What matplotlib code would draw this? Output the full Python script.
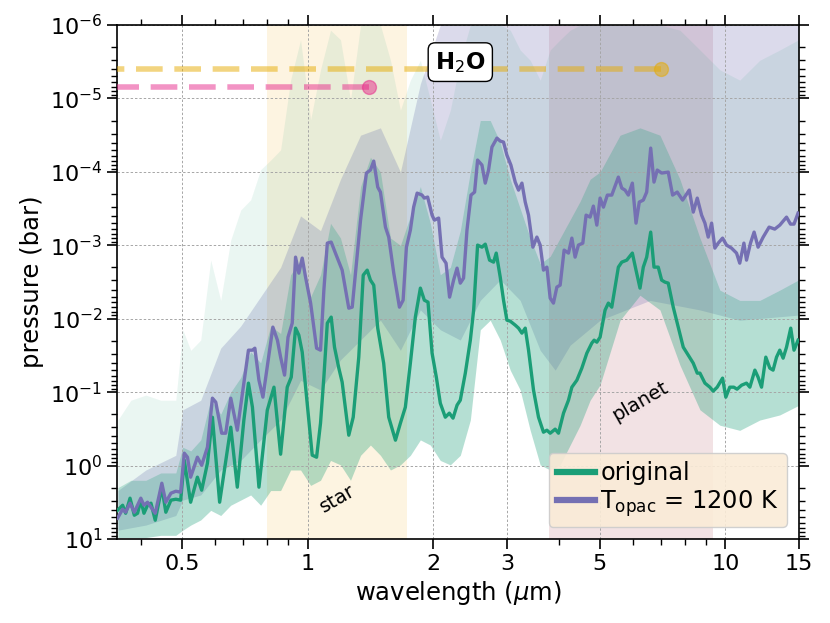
import numpy as np
import matplotlib
matplotlib.use("Agg")
import matplotlib.pyplot as plt
from matplotlib.ticker import LogLocator, FixedLocator, FixedFormatter, NullFormatter, LogFormatterSciNotation

# ---------------- data ----------------
# binned spectrum "original": wavelength (um) and log10 pressure (bar)
wl_orig = [0.351, 0.361, 0.367, 0.376, 0.385, 0.392, 0.399, 0.406, 0.414, 0.422,
           0.432, 0.448, 0.458, 0.471, 0.484, 0.497, 0.507, 0.525, 0.545, 0.558,
           0.576, 0.592, 0.616, 0.655, 0.679, 0.704, 0.722, 0.738, 0.765, 0.801,
           0.831, 0.862, 0.894, 0.914, 0.936, 0.953, 0.971, 0.998, 1.026, 1.051,
           1.074, 1.094, 1.115, 1.139, 1.160, 1.188, 1.210, 1.255, 1.286, 1.326,
           1.359, 1.389, 1.414, 1.440, 1.472, 1.521, 1.564, 1.623, 1.668, 1.714,
           1.762, 1.811, 1.862, 1.903, 1.942, 1.986, 2.033, 2.078, 2.136, 2.184,
           2.229, 2.279, 2.320, 2.385, 2.452, 2.497, 2.552, 2.614, 2.662, 2.726,
           2.787, 2.828, 2.891, 2.944, 2.999, 3.055, 3.140, 3.198, 3.258, 3.318,
           3.379, 3.473, 3.570, 3.669, 3.739, 3.807, 3.913, 3.985, 4.097, 4.211,
           4.290, 4.410, 4.532, 4.659, 4.788, 4.850, 4.923, 5.012, 5.151, 5.246,
           5.345, 5.443, 5.543, 5.648, 5.805, 5.987, 6.109, 6.245, 6.359, 6.479,
           6.624, 6.745, 6.905, 7.036, 7.164, 7.296, 7.500, 7.709, 7.925, 8.145,
           8.374, 8.561, 8.689, 8.931, 9.177, 9.346, 9.555, 9.842, 10.02, 10.24,
           10.47, 10.66, 10.93, 11.23, 11.44, 11.76, 11.97, 12.20, 12.49, 12.77,
           13.00, 13.25, 13.49, 13.74, 14.00, 14.33, 14.59, 14.92]
logp_orig = [0.608, 0.540, 0.649, 0.444, 0.676, 0.649, 0.471, 0.649, 0.540, 0.512,
             0.744, 0.294, 0.635, 0.471, 0.458, 0.471, -0.074, 0.499, 0.158, 0.335,
             -0.033, -0.659, 0.499, -0.523, 0.294, -0.619, -1.123, -0.796, 0.294, -0.755,
             -1.068, -0.155, -1.068, -1.204, -1.872, -1.777, -1.545, -0.850, -0.142, -0.114,
             -0.578, -1.204, -1.940, -2.022, -1.613, -1.327, -1.136, -0.414, -0.659, -1.477,
             -2.594, -2.662, -2.526, -2.458, -1.872, -1.395, -0.659, -0.346, -0.578, -0.796,
             -1.395, -2.022, -2.417, -2.253, -2.226, -1.531, -1.204, -0.850, -0.659, -0.714,
             -0.646, -0.823, -0.891, -1.259, -1.708, -2.117, -3.003, -2.975, -3.016, -2.798,
             -2.771, -2.894, -2.567, -2.253, -1.981, -1.967, -1.913, -1.872, -1.804, -1.872,
             -1.572, -1.027, -0.659, -0.455, -0.482, -0.441, -0.496, -0.441, -0.714, -0.891,
             -1.068, -1.163, -1.327, -1.531, -1.668, -1.708, -1.681, -1.749, -2.117, -2.213,
             -2.158, -2.431, -2.703, -2.771, -2.798, -2.894, -2.662, -2.417, -2.703, -2.839,
             -3.180, -2.703, -2.703, -2.526, -2.499, -2.485, -2.158, -1.886, -1.613, -1.504,
             -1.395, -1.259, -1.259, -1.123, -1.068, -1.014, -1.068, -1.191, -0.932, -1.068,
             -1.068, -1.041, -1.095, -1.123, -1.068, -1.300, -1.204, -1.068, -1.477, -1.327,
             -1.300, -1.477, -1.572, -1.463, -1.613, -1.872, -1.572, -1.708]

# binned spectrum "T_opac = 1200 K"
wl_topac = [0.351, 0.361, 0.367, 0.376, 0.385, 0.399, 0.406, 0.414, 0.432, 0.448,
            0.458, 0.471, 0.484, 0.497, 0.507, 0.516, 0.525, 0.545, 0.558, 0.576,
            0.592, 0.603, 0.623, 0.637, 0.655, 0.679, 0.704, 0.722, 0.738, 0.748,
            0.765, 0.782, 0.806, 0.826, 0.847, 0.862, 0.881, 0.898, 0.919, 0.936,
            0.953, 0.971, 0.989, 1.017, 1.051, 1.074, 1.094, 1.115, 1.139, 1.166,
            1.210, 1.255, 1.279, 1.339, 1.383, 1.414, 1.440, 1.472, 1.494, 1.536,
            1.564, 1.608, 1.659, 1.693, 1.724, 1.762, 1.794, 1.829, 1.879, 1.903,
            1.938, 1.986, 2.011, 2.059, 2.098, 2.145, 2.187, 2.236, 2.279, 2.320,
            2.362, 2.407, 2.461, 2.510, 2.552, 2.614, 2.662, 2.711, 2.762, 2.839,
            2.891, 2.944, 2.999, 3.066, 3.140, 3.198, 3.258, 3.318, 3.379, 3.461,
            3.538, 3.603, 3.669, 3.739, 3.807, 3.876, 3.950, 4.022, 4.111, 4.211,
            4.290, 4.367, 4.448, 4.557, 4.640, 4.744, 4.830, 4.923, 5.012, 5.105,
            5.217, 5.345, 5.543, 5.648, 5.751, 5.856, 5.987, 6.109, 6.220, 6.359,
            6.479, 6.624, 6.745, 6.867, 7.036, 7.296, 7.474, 7.666, 7.898, 8.191,
            8.374, 8.561, 8.769, 8.931, 9.094, 9.266, 9.434, 9.608, 9.842, 10.06,
            10.34, 10.63, 10.82, 11.07, 11.23, 11.48, 11.71, 11.97, 12.31, 12.72,
            13.12, 13.49, 14.00, 14.31, 14.59, 14.92]
logp_topac = [0.717, 0.594, 0.635, 0.512, 0.635, 0.444, 0.540, 0.499, 0.649, 0.240,
              0.499, 0.376, 0.349, 0.362, -0.169, -0.114, 0.158, -0.114, -0.005, -0.251,
              -0.918, -0.864, -0.441, -0.441, -0.918, -0.482, -1.123, -1.572, -1.572, -1.599,
              -1.163, -0.932, -1.463, -1.886, -1.708, -1.477, -1.232, -1.749, -1.940, -2.839,
              -2.621, -2.826, -2.567, -2.213, -1.599, -1.572, -2.390, -3.030, -3.044, -2.894,
              -2.662, -2.144, -2.158, -3.343, -3.984, -4.025, -4.147, -3.793, -3.725, -3.248,
              -3.112, -2.621, -2.158, -2.253, -2.975, -3.207, -3.520, -3.711, -3.684, -3.643,
              -3.657, -3.411, -3.343, -3.371, -2.839, -2.757, -2.294, -2.526, -2.689, -2.485,
              -2.553, -3.207, -3.684, -3.725, -4.161, -4.093, -3.847, -4.025, -4.338, -4.460,
              -4.420, -4.406, -4.229, -4.093, -3.861, -3.752, -3.847, -3.589, -3.411, -2.975,
              -3.112, -3.003, -2.662, -2.703, -2.281, -2.213, -2.431, -2.458, -2.935, -2.894,
              -3.098, -2.839, -3.003, -3.030, -3.411, -3.384, -3.534, -3.275, -3.643, -3.520,
              -3.684, -3.684, -3.929, -3.779, -3.752, -3.684, -3.847, -3.302, -3.589, -3.616,
              -3.725, -4.324, -3.861, -4.025, -3.984, -3.997, -3.684, -3.725, -3.616, -3.752,
              -3.452, -3.643, -3.411, -3.302, -3.112, -3.302, -2.962, -3.030, -3.098, -3.003,
              -2.962, -2.894, -2.757, -3.030, -2.798, -3.030, -3.180, -2.975, -3.112, -3.248,
              -3.221, -3.275, -3.384, -3.289, -3.289, -3.439]

# spread of the high-resolution "original" spectrum (log10 pressure)
env_wl = [0.3516, 0.3777, 0.4102, 0.4454, 0.4838, 0.5028, 0.5254, 0.5551, 0.5865, 0.6197,
          0.6547, 0.6918, 0.7309, 0.7722, 0.8159, 0.8620, 0.9108, 0.9622, 1.017, 1.074,
          1.135, 1.199, 1.267, 1.339, 1.414, 1.494, 1.579, 1.668, 1.762, 1.862,
          1.967, 2.078, 2.196, 2.320, 2.452, 2.590, 2.736, 2.891, 3.055, 3.227,
          3.410, 3.603, 3.807, 4.022, 4.250, 4.490, 4.744, 5.012, 5.595, 6.245,
          6.970, 7.781, 8.689, 9.697, 10.82, 12.08, 13.49, 14.97]
orig_low = [0.98, 0.98, 0.98, 0.95, 0.95, 0.88, 0.81, 0.74, 0.61, 0.68,
            0.54, 0.47, 0.40, 0.54, 0.34, 0.34, 0.06, 0.06, 0.27, 0.20,
            -0.07, -0.01, 0.20, -0.14, -0.28, -0.14, 0.06, -0.01, -0.14, -0.35,
            -0.28, -0.07, -0.01, -0.14, -0.62, -1.85, -1.98, -1.71, -1.30, -1.03,
            -0.48, -0.01, 0.06, -0.01, -0.28, -0.55, -0.89, -1.10, -1.98, -2.32,
            -2.12, -1.37, -0.76, -0.55, -0.48, -0.62, -0.69, -0.82]
orig_high = [0.30, 0.20, 0.20, 0.10, 0.10, -0.25, -0.20, -0.35, -0.90, -0.70,
             -1.00, -1.20, -1.55, -1.40, -1.90, -1.80, -2.60, -2.80, -2.30, -2.60,
             -3.30, -3.10, -2.60, -3.80, -4.20, -4.00, -3.10, -3.00, -3.40, -3.80,
             -3.30, -2.60, -2.70, -3.20, -4.00, -4.70, -4.70, -4.40, -3.90, -3.50,
             -3.10, -2.75, -2.85, -3.10, -3.35, -3.60, -3.90, -4.00, -4.50, -4.60,
             -4.50, -3.90, -3.10, -2.39, -2.25, -2.25, -2.39, -2.53]
orig_spike = [-0.62, -0.89, -0.96, -0.89, -0.89, -1.85, -1.57, -1.71, -2.80, -2.25,
              -3.07, -3.48, -3.62, -4.03, -4.16, -4.30, -5.25, -5.80, -4.71, -5.39,
              -5.93, -5.80, -4.98, -6.0, -6.0, -6.0, -5.52, -4.84, -5.25, -5.52,
              -4.98, -4.43, -4.84, -5.52, -6.0, -6.0, -6.0, -6.0, -5.93, -5.66,
              -5.52, -5.25, -5.66, -5.80, -5.93, -6.0, -6.0, -6.0, -6.0, -6.0,
              -6.0, -5.93, -5.66, -5.39, -5.25, -5.52, -5.66, -5.80]

# spread of the high-resolution "T_opac" spectrum (log10 pressure)
penv_wl = [0.3516, 0.4102, 0.4838, 0.5028, 0.5551, 0.6197, 0.6918, 0.7722, 0.8620, 0.9622,
           1.074, 1.199, 1.339, 1.494, 1.668, 1.862, 2.078, 2.320, 2.590, 2.891,
           3.227, 3.603, 3.913, 4.250, 5.012, 6.598, 8.689, 10.82, 14.97]
topac_low = [0.88, 0.81, 0.68, 0.47, 0.40, 0.06, -0.07, -0.35, -0.62, -1.16,
             -1.03, -1.44, -1.71, -1.98, -1.57, -2.12, -1.85, -1.71, -2.25, -2.53,
             -2.25, -1.57, -1.30, -1.64, -1.98, -2.25, -2.12, -1.98, -2.05]
topac_high = [0.34, 0.06, -0.14, -0.76, -0.89, -1.60, -1.90, -2.30, -2.70, -3.40,
              -3.20, -3.90, -4.50, -4.60, -4.00, -5.20, -6.0, -6.0, -6.0, -6.0,
              -6.0, -6.0, -6.0, -6.0, -6.0, -6.0, -6.0, -6.0, -6.0]

star_band = (0.80, 1.73)
planet_band = (3.79, 9.35)
star_h2o_wl, star_h2o_p = 1.40, 7.0e-6
planet_h2o_wl, planet_h2o_p = 7.0, 4.0e-6

xticks = [0.5, 1, 2, 3, 5, 10, 15]
xticklabels = ['0.5', '1', '2', '3', '5', '10', '15']
xminor = [0.4, 0.6, 0.7, 0.8, 0.9, 4, 6, 7, 8, 9]
yticks = [1e1, 1e0, 1e-1, 1e-2, 1e-3, 1e-4, 1e-5, 1e-6]

GREEN = '#1b9e77'
PURPLE = '#7570b3'
YELLOW = '#e6ab02'
PINK = '#e7298a'

# ---------------- figure ----------------
fig = plt.figure(figsize=(8.3, 6.23), dpi=100)
ax = fig.add_axes([0.1410, 0.1348, 0.8217, 0.8250])

ax.axvspan(*star_band, color='#fdf4e1', lw=0, zorder=0)
ax.axvspan(*planet_band, color='#f2e2e4', lw=0, zorder=0)

p = lambda a: 10.0 ** np.asarray(a)
ax.fill_between(penv_wl, p(topac_low), p(topac_high), color=PURPLE, alpha=0.26, lw=0, zorder=1)
ax.fill_between(env_wl, p(orig_high), p(orig_spike), color=GREEN, alpha=0.09, lw=0, zorder=1.1)
ax.fill_between(env_wl, p(orig_low), p(orig_high), color=GREEN, alpha=0.32, lw=0, zorder=1.2)

ax.plot(wl_orig, p(logp_orig), color=GREEN, lw=2.4, label='original', zorder=3)
ax.plot(wl_topac, p(logp_topac), color=PURPLE, lw=2.4, label=r'T$_{\rm opac}$ = 1200 K', zorder=3.1)

ax.plot([planet_h2o_wl, 0.1], [planet_h2o_p, planet_h2o_p], color=YELLOW, alpha=0.5, lw=4,
        dashes=(4.8, 2.1), marker='o', markevery=[0], ms=10, zorder=4)
ax.plot([star_h2o_wl, 0.1], [star_h2o_p, star_h2o_p], color=PINK, alpha=0.5, lw=4,
        dashes=(4.8, 2.1), marker='o', markevery=[0], ms=10, zorder=4)

ax.text(2.32, 3.2e-6, r'H$_2$O', fontsize=16.5, fontweight='bold', ha='center', va='center',
        bbox=dict(boxstyle='round,pad=0.3', fc='white', ec='black', lw=1), zorder=6)
ax.text(1.18, 2.8, 'star', fontsize=14, rotation=30, ha='center', va='center', zorder=5)
ax.text(6.25, 0.135, 'planet', fontsize=14, rotation=30, ha='center', va='center', zorder=5)

ax.set_xscale('log')
ax.set_yscale('log')
ax.set_xlim(0.35, 15)
ax.set_ylim(10, 1e-6)

ax.xaxis.set_major_locator(FixedLocator(xticks))
ax.xaxis.set_major_formatter(FixedFormatter(xticklabels))
ax.xaxis.set_minor_locator(FixedLocator(xminor))
ax.xaxis.set_minor_formatter(NullFormatter())
ax.yaxis.set_major_locator(FixedLocator(yticks))
ax.yaxis.set_major_formatter(LogFormatterSciNotation())
ax.yaxis.set_minor_locator(LogLocator(base=10, subs=np.arange(2, 10) * 1.0, numticks=100))
ax.yaxis.set_minor_formatter(NullFormatter())

ax.tick_params(which='both', direction='out', top=True, right=True, labelsize=16)
ax.tick_params(which='major', length=7, width=1.2)
ax.tick_params(which='minor', length=4, width=1.0)
for s in ax.spines.values():
    s.set_linewidth(1.2)

ax.grid(True, which='major', ls=(0, (2.5, 2)), lw=0.7, color='0.65', zorder=0.5)

ax.set_xlabel(r'wavelength ($\mu$m)', fontsize=17.5)
ax.set_ylabel('pressure (bar)', fontsize=17.5)

leg = ax.legend(loc='lower right', fontsize=17.3, facecolor='antiquewhite', edgecolor='0.8',
                framealpha=0.9, handlelength=1.6, handletextpad=0.2, labelspacing=0.1,
                borderpad=0.35)
leg.set_zorder(7)
for ln in leg.get_lines():
    ln.set_linewidth(4.5)

fig.savefig('out.png', dpi=100)
